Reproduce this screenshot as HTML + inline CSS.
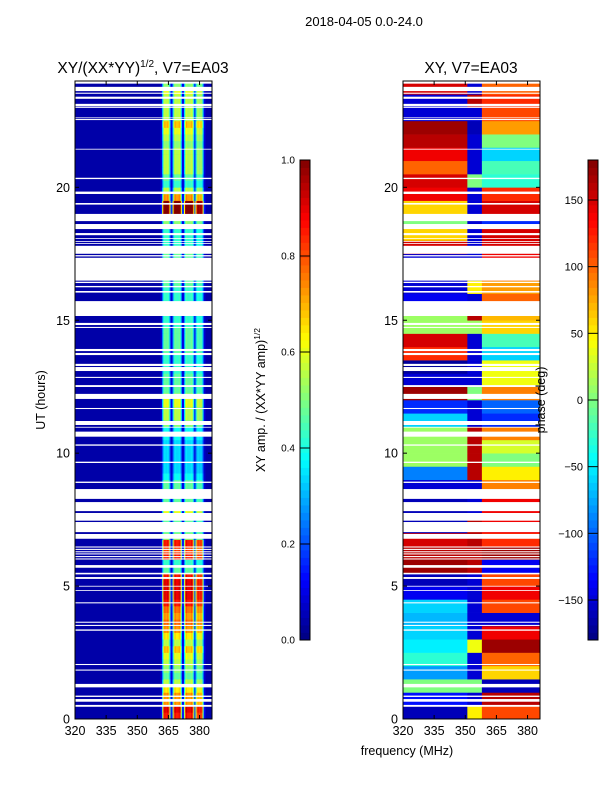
<!DOCTYPE html>
<html><head><meta charset="utf-8">
<style>
html,body{margin:0;padding:0;background:#fff;}
svg{display:block;font-family:"Liberation Sans","DejaVu Sans",sans-serif;}
</style></head>
<body>
<svg id="fig" width="600" height="800" viewBox="0 0 600 800" xmlns="http://www.w3.org/2000/svg">
<rect x="0" y="0" width="600" height="800" fill="#fff"/>
<text x="364" y="26" font-size="13" text-anchor="middle">2018-04-05 0.0-24.0</text>
<text x="143" y="73" font-size="15.5" text-anchor="middle">XY/(XX*YY)<tspan font-size="10" dy="-6">1/2</tspan><tspan dy="6">, V7=EA03</tspan></text>
<text x="471" y="73" font-size="15.5" text-anchor="middle">XY, V7=EA03</text>
<g id="ampPanel"></g>
<g id="phPanel"></g>
<g id="axes"></g>
<text transform="translate(45,400) rotate(-90)" font-size="12.5" text-anchor="middle">UT (hours)</text>
<text x="407" y="755" font-size="12.5" text-anchor="middle">frequency (MHz)</text>
<text transform="translate(265,400) rotate(-90)" font-size="12.5" text-anchor="middle">XY amp. / (XX*YY amp)<tspan font-size="8.5" dy="-5">1/2</tspan></text>
<text transform="translate(545,400) rotate(-90)" font-size="12.5" text-anchor="middle">phase (deg)</text>
<g id="cbars"></g>
</svg>
<script>
// ---- data ----
const bandFreqStart = 360, bandFreqStep = 0.5;
const bandShape = [0,0,0.05,0.1, 0.5,0.8,0.9,0.85,0.85,0.9,0.8,0.5, 0.12,0.12,
 0.5,0.8,0.9,0.85,0.85,0.85,0.9,0.8,0.5, 0.12,0.12, 0.5,0.8,0.9,0.85,0.85,0.85,0.85,0.9,0.8,0.5, 0.12,
 0.5,0.75,0.85,0.8,0.8,0.85,0.75,0.45, 0.1,0.05,0,0];
// amplitude level of the bright bands per quarter hour (0..24h)
const ampLevel = [0.95,1.0,0.8,0.8,0.7,0.6,0.5,0.55, 0.6,0.65,0.75,0.6,0.7,0.8,0.85,0.8,
 0.85,0.95,1.0,1.0,1.0,0.95,0.5,0.45, 0.95,0.9,0.95,0.55,0.5,0.5,0.6,0.65,
 0.5,0.5,0.5,0.5,0.4,0.35,0.35,0.35, 0.35,0.35,0.4,0.4,0.55,0.6,0.6,0.65,
 0.65,0.5,0.5,0.5,0.45,0.45,0.45,0.5, 0.5,0.5,0.5,0.45,0.45,0.45,0.45,0.45,
 0.45,0.5,0.5,0.5,0.5,0.5,0.55,0.45, 0.45,0.45,0.55,0.55,1.15,1.15,0.8,0.6,
 0.45,0.5,0.6,0.6,0.6,0.6,0.55,0.6, 0.65,0.75,0.6,0.6,0.6,0.6,0.65,0.55];
const ampBackground = 0.04;
// phase (deg) per half hour (bottom to top) in three frequency zones
const phaseL = [-160,-130,0,-80,-30,-50,-60,-70, -60,-140,-160,170,160,150,-160,-160,
 -160,-150,-90,10,10,10,-60,-120, 170,-150,-170,120,150,10,10,-140,
 -150,-150,-150,150,60,0,60,140, 150,100,140,160,170,-150,-150,150];
const phaseM = [50,-150,0,-150,-150,40,-150,-150, -150,-150,-150,160,160,160,160,-150,
 -150,-150,160,160,160,160,-150,-150, 0,-150,-150,-150,-150,10,160,-150,
 50,-150,-150,-150,-150,-150,-150,-150, 0,-150,-150,-150,-160,-150,160,-150];
const phaseR = [110,160,-160,60,100,170,140,-150, 110,140,110,-140,170,120,140,140,
 140,90,50,0,30,90,-120,-100, 90,40,40,-60,-20,60,70,100,
 80,140,140,150,150,-120,150,120, -30,-20,-60,0,80,110,120,100];
const phaseCut1 = 351, phaseCut2 = 358;
// masked (flagged) time ranges in hours
const gaps = [[23.9,24],[23.62,23.78],[23.52,23.56],[23.33,23.41],[23.06,23.14],[22.99,23.04],[22.53,22.57],[22.6,22.63],
 [21.42,21.45],[20.31,20.36],[19.75,19.84],[19.35,19.41],[18.73,19.0],[18.43,18.62],[18.2,18.28],[18.06,18.09],
 [17.95,17.98],[17.87,17.9],[17.5,17.8],[17.4,17.45],[16.49,17.35],[16.4,16.45],[16.24,16.29],[16.04,16.1],
 [15.16,15.72],[14.82,14.9],[14.71,14.75],[13.84,13.92],[13.69,13.77],[13.28,13.36],[13.09,13.24],[12.83,12.87],
 [12.49,12.56],[12.04,12.23],[11.66,11.7],[11.06,11.21],[10.96,10.99],[10.62,10.81],[10.28,10.33],[9.63,9.68],
 [8.88,8.93],[8.28,8.65],[7.82,8.16],[7.46,7.75],[7.03,7.41],[6.78,6.96],[6.45,6.49],[6.36,6.4],[6.27,6.31],
 [6.19,6.23],[6.09,6.13],[6.0,6.04],[5.69,5.79],[5.44,5.5],[5.27,5.34],[4.98,5.01],[4.82,4.85],[4.35,4.39],
 [3.62,3.66],[3.5,3.54],[3.32,3.37],[2.03,2.07],[1.82,1.86],[1.19,1.32],[0.83,0.88],[0.65,0.75],[0.46,0.53]];
const xTicks = [320,335,350,365,380];
const yTicks = [0,5,10,15,20];
const ampTicks = [0.0,0.2,0.4,0.6,0.8,1.0];
const ampTickLabels = ["0.0","0.2","0.4","0.6","0.8","1.0"];
const phTicks = [-150,-100,-50,0,50,100,150];
const phTickLabels = ["\u2212150","\u2212100","\u221250","0","50","100","150"];

// ---- scales ----
const NS="http://www.w3.org/2000/svg";
const TOP=81, BOT=719, W=137, F0=320, F1=386;
const panels=[75,403];
function xs(p,f){return panels[p]+(f-F0)*W/(F1-F0);}
function ys(h){return BOT-(h/24)*(BOT-TOP);}
function clip(v){return Math.max(0,Math.min(1,v));}
function jet(x){x=clip(x);const r=clip(1.5-Math.abs(4*x-3)),g=clip(1.5-Math.abs(4*x-2)),b=clip(1.5-Math.abs(4*x-1));
 return `rgb(${Math.round(r*255)},${Math.round(g*255)},${Math.round(b*255)})`;}
function mk(tag,attrs,parent){const e=document.createElementNS(NS,tag);for(const k in attrs)e.setAttribute(k,attrs[k]);parent.appendChild(e);return e;}

// ---- amplitude heatmap ----
const ampG=document.getElementById('ampPanel');
let bg=mk('rect',{x:xs(0,F0),y:TOP,width:W,height:BOT-TOP,fill:jet(ampBackground)},ampG);


const qh=(BOT-TOP)/ampLevel.length;
ampLevel.forEach((lv,i)=>{
  const y0=ys((i+1)/4);
  bandShape.forEach((s,j)=>{
    const f=bandFreqStart+j*bandFreqStep;
    const v=ampBackground+lv*s;
    const c=mk('rect',{x:xs(0,f),y:y0,width:xs(0,f+bandFreqStep)-xs(0,f)+0.3,height:qh+0.3,fill:jet(v)},ampG);
    
    
  });
});
// ---- phase heatmap ----
const phG=document.getElementById('phPanel');
const hh=(BOT-TOP)/48;
function pc(d){return jet((d+180)/360);}
for(let i=0;i<48;i++){
  const y0=ys((i+1)/2);
  const zones=[[F0,phaseCut1,phaseL[i]],[phaseCut1,phaseCut2,phaseM[i]],[phaseCut2,F1,phaseR[i]]];
  zones.forEach(z=>{
    const c=mk('rect',{x:xs(1,z[0]),y:y0,width:xs(1,z[1])-xs(1,z[0])+0.3,height:hh+0.3,fill:pc(z[2])},phG);
    
    
  });
}
// ---- masks ----
[ampG,phG].forEach((g,p)=>{
  gaps.forEach(gp=>{
    const r=mk('rect',{x:panels[p],y:ys(gp[1]),width:W,height:ys(gp[0])-ys(gp[1]),fill:'#fff'},g);
    
    
  });
});
// ---- axes ----
const ax=document.getElementById('axes');
[0,1].forEach(p=>{
  const fr=mk('rect',{x:panels[p],y:TOP,width:W,height:BOT-TOP,fill:'none',stroke:'#000','stroke-width':1},ax);
  
  
  xTicks.forEach((t,k)=>{
    const x=xs(p,t);
    mk('line',{x1:x,y1:BOT,x2:x,y2:BOT-4,stroke:'#000'},ax);
    mk('line',{x1:x,y1:TOP,x2:x,y2:TOP+4,stroke:'#000'},ax);
    const tx=mk('text',{x:x,y:BOT+16,'font-size':12.5,'text-anchor':'middle'},ax);
    tx.textContent=t;
    
    
  });
  yTicks.forEach(t=>{
    const y=ys(t);
    mk('line',{x1:panels[p],y1:y,x2:panels[p]+4,y2:y,stroke:'#000'},ax);
    mk('line',{x1:panels[p]+W,y1:y,x2:panels[p]+W-4,y2:y,stroke:'#000'},ax);
    const tx=mk('text',{x:panels[p]-5,y:y+4.5,'font-size':12.5,'text-anchor':'end'},ax);
    tx.textContent=t;
    
    
  });
});
// ---- colorbars ----
const cb=document.getElementById('cbars');
const CT=160, CB=640;
function cbar(x, name){
  for(let k=0;k<64;k++){
    const y=CB-(k+1)*(CB-CT)/64;
    const r=mk('rect',{x:x,y:y,width:10,height:(CB-CT)/64+0.4,fill:jet((k+0.5)/64)},cb);
    
    
  }
  mk('rect',{x:x,y:CT,width:10,height:CB-CT,fill:'none',stroke:'#000','stroke-width':1},cb);
}
cbar(300,'amp-colorbar');
cbar(588,'phase-colorbar');
ampTicks.forEach((t,k)=>{
  const y=CB-t*(CB-CT);
  mk('line',{x1:300,y1:y,x2:310,y2:y,stroke:'#000'},cb);
  const tx=mk('text',{x:295,y:y+3.5,'font-size':10,'text-anchor':'end'},cb);
  tx.textContent=ampTickLabels[k];
  
  
});
phTicks.forEach((t,k)=>{
  const y=CB-((t+180)/360)*(CB-CT);
  mk('line',{x1:588,y1:y,x2:598,y2:y,stroke:'#000'},cb);
  const tx=mk('text',{x:583,y:y+4,'font-size':11,'text-anchor':'end'},cb);
  tx.textContent=phTickLabels[k];
  
  
});
</script>
</body></html>
